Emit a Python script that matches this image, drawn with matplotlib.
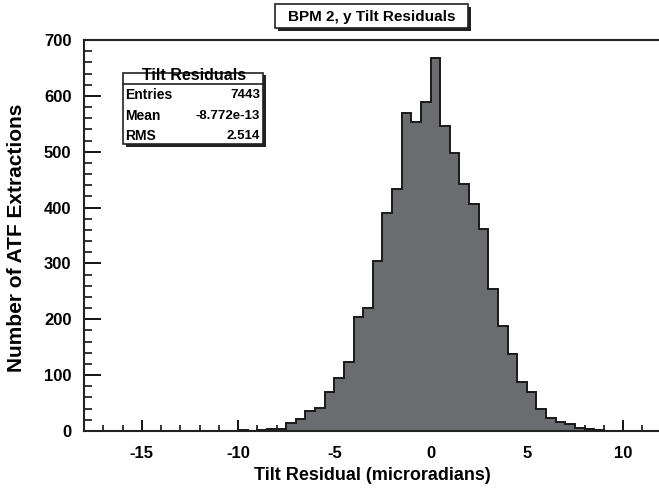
import numpy as np
import matplotlib
matplotlib.use("Agg")
import matplotlib.pyplot as plt
from matplotlib.patches import Rectangle

plt.rcParams['font.family'] = ['Liberation Sans', 'DejaVu Sans']
plt.rcParams['font.weight'] = 'bold'
plt.rcParams['axes.unicode_minus'] = False

# histogram of tilt residuals, 0.5 urad bins from -10 to 9
bin_lo = -10.0
bin_width = 0.5
counts = [1, 0, 2, 3, 4, 15, 22, 36, 41, 70, 94, 124, 204, 221, 304, 390,
          433, 570, 553, 589, 668, 546, 498, 442, 407, 362, 254, 188, 138,
          88, 70, 40, 24, 17, 12, 6, 3, 2]
edges = bin_lo + bin_width * np.arange(len(counts) + 1)

title = "BPM 2, y Tilt Residuals"
stat_title = "Tilt Residuals"
stat_names = ["Entries", "Mean", "RMS"]
stat_values = ["7443", "-8.772e-13", "2.514"]

W, H = 659, 493
fig = plt.figure(figsize=(W / 100, H / 100), dpi=100)

def fx(px):
    return px / W

def fy(py):
    return 1 - py / H

ax = fig.add_axes([fx(84), fy(431), fx(659 - 84), (431 - 40) / H])
ax.stairs(counts, edges, fill=True, color='#6b6c70', zorder=2)
ax.stairs(counts, edges, color='#1a1a1a', linewidth=1.4, zorder=3)

ax.set_xlim(-18, 11.87)
ax.set_ylim(0, 700)
ax.set_xticks([-15, -10, -5, 0, 5, 10])
ax.set_xticks(np.arange(-17, 12, 1), minor=True)
ax.set_yticks(np.arange(0, 701, 100))
ax.set_yticks(np.arange(0, 701, 20), minor=True)
ax.tick_params(axis='x', which='major', direction='in', length=8, width=1.3,
               labelsize=12, pad=11)
ax.tick_params(axis='x', which='minor', direction='in', length=4.5, width=1.1)
ax.tick_params(axis='y', which='major', direction='in', length=12, width=1.3,
               labelsize=12, pad=9)
ax.tick_params(axis='y', which='minor', direction='in', length=6, width=1.1)
for lbl in ax.get_xticklabels() + ax.get_yticklabels():
    lbl.set_fontweight('bold')

ax.spines['right'].set_visible(False)
for s in ['left', 'bottom', 'top']:
    ax.spines[s].set_linewidth(1.5)
    ax.spines[s].set_color('#222222')
ax.spines['top'].set_zorder(5)

fig.text(fx(372), fy(475), "Tilt Residual (microradians)", ha='center',
         va='center', fontsize=13, fontweight='bold')
fig.text(fx(16.5), fy(238), "Number of ATF Extractions", ha='center',
         va='center', rotation=90, fontsize=15, fontweight='bold')

def box(x0, y0, x1, y1, shadow=2.5):
    fig.patches.append(Rectangle((fx(x0 + shadow), fy(y1 + shadow)),
                                 fx(x1 - x0), (y1 - y0) / H,
                                 transform=fig.transFigure, facecolor='#222222',
                                 edgecolor='none', zorder=10))
    fig.patches.append(Rectangle((fx(x0), fy(y1)), fx(x1 - x0), (y1 - y0) / H,
                                 transform=fig.transFigure, facecolor='white',
                                 edgecolor='#222222', linewidth=1.2, zorder=11))

# title box
box(275, 4, 468, 28)
fig.text(fx(372), fy(16.5), title, ha='center', va='center', fontsize=11,
         fontweight='bold', zorder=12)

# statistics box
box(123, 73, 263, 144)
fig.lines.append(plt.Line2D([fx(123), fx(263)], [fy(84), fy(84)],
                            transform=fig.transFigure, color='#222222',
                            linewidth=1.2, zorder=12))
fig.text(fx(194), fy(76), stat_title, ha='center', va='center', fontsize=11.5,
         fontweight='bold', zorder=12)
rows_y = [95, 116, 136]
for name, val, yy in zip(stat_names, stat_values, rows_y):
    fig.text(fx(125), fy(yy), name, ha='left', va='center', fontsize=10,
             fontweight='bold', zorder=12)
    fig.text(fx(260), fy(yy), val, ha='right', va='center', fontsize=9.5,
             fontweight='bold', zorder=12)

fig.savefig("out.png", dpi=100)
